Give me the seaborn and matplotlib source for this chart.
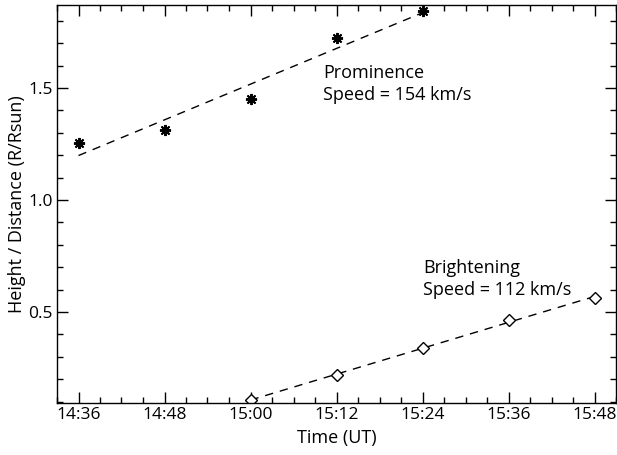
import numpy as np
import pandas as pd
import matplotlib
matplotlib.use("Agg")
import matplotlib.pyplot as plt
import matplotlib.dates as mdates
import seaborn as sns

# --- dados ---
prom_times = ["14:36", "14:48", "15:00", "15:12", "15:24"]
prom_height = [1.254, 1.312, 1.450, 1.723, 1.845]

bright_times = ["15:00", "15:12", "15:24", "15:36", "15:48"]
bright_dist = [0.107, 0.219, 0.339, 0.464, 0.562]

RSUN_KM = 696000.0
day = "2011-01-01 "

def to_dt(ts):
    return pd.to_datetime([day + t for t in ts])

df_prom = pd.DataFrame({"t": to_dt(prom_times), "h": prom_height})
df_bright = pd.DataFrame({"t": to_dt(bright_times), "h": bright_dist})

def linfit(df):
    mins = (df["t"] - df["t"].iloc[0]).dt.total_seconds() / 60.0
    a, b = np.polyfit(mins, df["h"], 1)
    speed = a * RSUN_KM / 60.0
    fit = pd.DataFrame({"t": df["t"], "h": a * mins + b})
    return fit, speed

fit_prom, v_prom = linfit(df_prom)
fit_bright, v_bright = linfit(df_bright)

sns.set_theme(style="ticks")
plt.rcParams["font.family"] = ["Open Sans", "DejaVu Sans"]
plt.rcParams["text.color"] = "black"
plt.rcParams["axes.labelcolor"] = "black"

fig = plt.figure(figsize=(6.17, 4.55), dpi=100)
ax = fig.add_axes([57 / 617, 1 - 403 / 455, 559 / 617, 398 / 455])

sns.lineplot(data=fit_prom, x="t", y="h", ax=ax, color="black",
             linewidth=1.0, linestyle=(0, (6, 5)))
sns.lineplot(data=fit_bright, x="t", y="h", ax=ax, color="black",
             linewidth=1.0, linestyle=(0, (6, 5)))

ax.plot(df_prom["t"], df_prom["h"], linestyle="none", marker=(8, 2, 0),
        markersize=8, markeredgewidth=1.4, color="black")
ax.plot(df_bright["t"], df_bright["h"], linestyle="none", marker="D",
        markersize=6, markerfacecolor="white", markeredgecolor="black",
        markeredgewidth=1.0)

ax.set_xlim(pd.Timestamp(day + "14:33"), pd.Timestamp(day + "15:51"))
ax.set_ylim(0.094, 1.87)

ax.xaxis.set_major_locator(mdates.MinuteLocator(byminute=[0, 12, 24, 36, 48]))
ax.xaxis.set_minor_locator(mdates.MinuteLocator(byminute=range(0, 60, 3)))
ax.xaxis.set_major_formatter(mdates.DateFormatter("%H:%M"))
ax.set_yticks([0.5, 1.0, 1.5])
ax.set_yticks(np.arange(0.1, 1.9, 0.1), minor=True)
ax.yaxis.set_major_formatter(matplotlib.ticker.FormatStrFormatter("%.1f"))

ax.tick_params(which="both", direction="in", top=True, right=True,
               colors="black", labelsize=12.5, pad=3)
ax.tick_params(which="major", length=8, width=1.0)
ax.tick_params(which="minor", length=4, width=1.0)
for s in ax.spines.values():
    s.set_color("black")
    s.set_linewidth(1.0)

ax.set_xlabel("Time (UT)", fontsize=13, labelpad=4)
ax.set_ylabel("Height / Distance (R/Rsun)", fontsize=13, labelpad=2)

ax.text(pd.Timestamp(day + "15:10:10"), 1.518, "Prominence\nSpeed = %d km/s" % round(v_prom),
        fontsize=13, ha="left", va="center", linespacing=1.25)
ax.text(pd.Timestamp(day + "15:24:05"), 0.647, "Brightening\nSpeed = %d km/s" % round(v_bright),
        fontsize=13, ha="left", va="center", linespacing=1.25)

fig.savefig("out.png", dpi=100)
